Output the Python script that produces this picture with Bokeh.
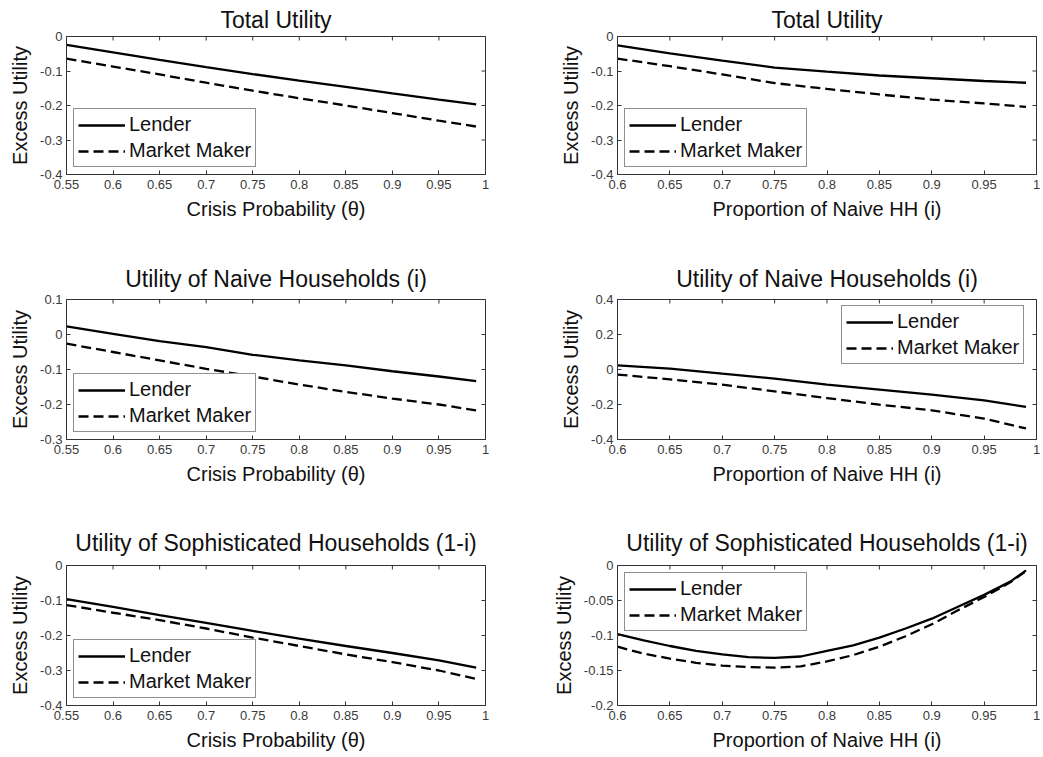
import math
from bokeh.plotting import figure
from bokeh.models import Range1d, FixedTicker, CustomJSTickFormatter, Legend, LegendItem
from bokeh.layouts import column, row
from bokeh.embed import file_html
from bokeh.resources import INLINE

# ---------------- data ----------------
theta = [0.55, 0.60, 0.65, 0.70, 0.75, 0.80, 0.85, 0.90, 0.95, 0.99]
share = [0.60, 0.65, 0.70, 0.75, 0.80, 0.85, 0.90, 0.95, 0.99]
share_fine = [0.600, 0.625, 0.650, 0.675, 0.700, 0.725, 0.750, 0.775, 0.800,
              0.825, 0.850, 0.875, 0.900, 0.925, 0.950, 0.975, 0.990]

total_theta_lender = [-0.024, -0.046, -0.068, -0.089, -0.109, -0.128, -0.146, -0.165, -0.183, -0.197]
total_theta_mm = [-0.064, -0.087, -0.110, -0.134, -0.157, -0.179, -0.200, -0.222, -0.244, -0.261]

total_share_lender = [-0.026, -0.049, -0.070, -0.090, -0.102, -0.113, -0.121, -0.129, -0.134]
total_share_mm = [-0.064, -0.086, -0.110, -0.135, -0.152, -0.168, -0.183, -0.194, -0.204]

naive_theta_lender = [0.023, 0.002, -0.019, -0.036, -0.058, -0.074, -0.088, -0.105, -0.120, -0.133]
naive_theta_mm = [-0.026, -0.050, -0.074, -0.098, -0.120, -0.143, -0.164, -0.183, -0.200, -0.217]

naive_share_lender = [0.024, 0.005, -0.024, -0.052, -0.087, -0.115, -0.144, -0.176, -0.214]
naive_share_mm = [-0.029, -0.056, -0.087, -0.125, -0.163, -0.201, -0.233, -0.281, -0.337]

soph_theta_lender = [-0.096, -0.118, -0.142, -0.164, -0.187, -0.209, -0.230, -0.250, -0.271, -0.292]
soph_theta_mm = [-0.113, -0.135, -0.156, -0.180, -0.206, -0.230, -0.254, -0.276, -0.300, -0.324]

soph_share_lender = [-0.098, -0.107, -0.115, -0.122, -0.127, -0.131, -0.132, -0.130, -0.122,
                     -0.114, -0.103, -0.090, -0.076, -0.059, -0.042, -0.023, -0.007]
soph_share_mm = [-0.116, -0.126, -0.133, -0.139, -0.143, -0.145, -0.146, -0.144, -0.137,
                 -0.128, -0.116, -0.101, -0.084, -0.064, -0.045, -0.024, -0.008]

x_ticks_theta = [0.55, 0.6, 0.65, 0.7, 0.75, 0.8, 0.85, 0.9, 0.95, 1.0]
x_ticks_share = [0.6, 0.65, 0.7, 0.75, 0.8, 0.85, 0.9, 0.95, 1.0]
y_ticks_total = [-0.4, -0.3, -0.2, -0.1, 0.0]
y_ticks_naive_theta = [-0.3, -0.2, -0.1, 0.0, 0.1]
y_ticks_naive_share = [-0.4, -0.2, 0.0, 0.2, 0.4]
y_ticks_soph_theta = [-0.4, -0.3, -0.2, -0.1, 0.0]
y_ticks_soph_share = [-0.2, -0.15, -0.1, -0.05, 0.0]

titles = ["Total Utility", "Utility of Naive Households (i)",
          "Utility of Sophisticated Households (1-i)"]
xlabel_theta = "Crisis Probability (\u03b8)"
xlabel_share = "Proportion of Naive HH (i)"
ylabel = "Excess Utility"
series_names = ["Lender", "Market Maker"]

FONT = "Liberation Sans"
AXC = "#333333"
fmt = CustomJSTickFormatter(code="return String(Math.round(tick*1000)/1000);")


def panel(title, xlabel, x, yl, ym, xr, yr, xt, yt, loc, width, height,
          bl, br, bt, bb, tstand):
    p = figure(width=width, height=height, x_range=Range1d(*xr), y_range=Range1d(*yr),
               output_backend="svg", toolbar_location=None, title=title,
               min_border_left=bl, min_border_right=br, min_border_top=bt,
               min_border_bottom=bb)
    p.title.align = "center"
    p.title.text_font = FONT
    p.title.text_font_style = "normal"
    p.title.text_font_size = "23px"
    p.title.text_color = "#111111"
    p.title.standoff = tstand
    p.xgrid.grid_line_color = None
    p.ygrid.grid_line_color = None
    p.outline_line_color = AXC
    p.outline_line_alpha = 1.0
    p.outline_line_width = 1
    p.background_fill_color = "white"
    p.border_fill_color = "white"

    p.xaxis.ticker = FixedTicker(ticks=xt)
    p.yaxis.ticker = FixedTicker(ticks=yt)
    for ax in (p.xaxis[0], p.yaxis[0]):
        ax.formatter = fmt
        ax.major_tick_in = 4
        ax.major_tick_out = 0
        ax.minor_tick_line_color = None
        ax.axis_line_color = AXC
        ax.major_tick_line_color = AXC
        ax.major_label_text_font = FONT
        ax.major_label_text_font_size = "13px"
        ax.major_label_text_color = "#3a3a3a"
        ax.axis_label_text_font = FONT
        ax.axis_label_text_font_size = "20px"
        ax.axis_label_text_font_style = "normal"
        ax.axis_label_text_color = "#111111"
    p.xaxis.axis_label = xlabel
    p.yaxis.axis_label = ylabel
    p.xaxis.major_label_standoff = 5
    p.xaxis.axis_label_standoff = 6
    p.yaxis.major_label_standoff = 4
    p.yaxis.axis_label_standoff = 6

    # mirrored inward ticks on the top and right edges of the box
    p.scatter(xt, [yr[1]] * len(xt), marker="dash", angle=math.pi / 2, size=8,
              line_color=AXC, line_width=1)
    p.scatter([xr[1]] * len(yt), yt, marker="dash", size=8,
              line_color=AXC, line_width=1)

    r1 = p.line(x, yl, line_color="black", line_width=2.3)
    r2 = p.line(x, ym, line_color="black", line_width=2.3, line_dash="10 5")
    leg = Legend(items=[LegendItem(label=series_names[0], renderers=[r1]),
                        LegendItem(label=series_names[1], renderers=[r2])],
                 location=loc, margin=7, padding=4, spacing=3, label_standoff=4,
                 glyph_width=47, glyph_height=20, label_height=20,
                 label_text_font=FONT, label_text_font_size="20px",
                 label_text_color="#111111",
                 border_line_color="#222222", border_line_width=1,
                 background_fill_color="white", background_fill_alpha=1.0)
    p.add_layout(leg)
    return p


LW, RW = 547, 496
LBL, LBR = 66, 62
RBL, RBR = 70, 7
rows_spec = [(250, 34, 76, 8), (266, 49, 77, 16), (241, 49, 52, 19)]

h, bt, bb, ts = rows_spec[0]
p1 = panel(titles[0], xlabel_theta, theta, total_theta_lender, total_theta_mm,
           (0.55, 1.0), (-0.4, 0.0), x_ticks_theta, y_ticks_total, "bottom_left",
           LW, h, LBL, LBR, bt, bb, ts)
p2 = panel(titles[0], xlabel_share, share, total_share_lender, total_share_mm,
           (0.6, 1.0), (-0.4, 0.0), x_ticks_share, y_ticks_total, "bottom_left",
           RW, h, RBL, RBR, bt, bb, ts)
h, bt, bb, ts = rows_spec[1]
p3 = panel(titles[1], xlabel_theta, theta, naive_theta_lender, naive_theta_mm,
           (0.55, 1.0), (-0.3, 0.1), x_ticks_theta, y_ticks_naive_theta, "bottom_left",
           LW, h, LBL, LBR, bt, bb, ts)
p4 = panel(titles[1], xlabel_share, share, naive_share_lender, naive_share_mm,
           (0.6, 1.0), (-0.4, 0.4), x_ticks_share, y_ticks_naive_share, (224, 75),
           RW, h, RBL, RBR, bt, bb, ts)
h, bt, bb, ts = rows_spec[2]
p5 = panel(titles[2], xlabel_theta, theta, soph_theta_lender, soph_theta_mm,
           (0.55, 1.0), (-0.4, 0.0), x_ticks_theta, y_ticks_soph_theta, "bottom_left",
           LW, h, LBL, LBR, bt, bb, ts)
p6 = panel(titles[2], xlabel_share, share_fine, soph_share_lender, soph_share_mm,
           (0.6, 1.0), (-0.2, 0.0), x_ticks_share, y_ticks_soph_share, "top_left",
           RW, h, RBL, RBR, bt, bb, ts)

layout = column(row(p1, p2, spacing=0), row(p3, p4, spacing=0),
                row(p5, p6, spacing=0), spacing=0)

open("out.html", "w").write(file_html(layout, INLINE))
